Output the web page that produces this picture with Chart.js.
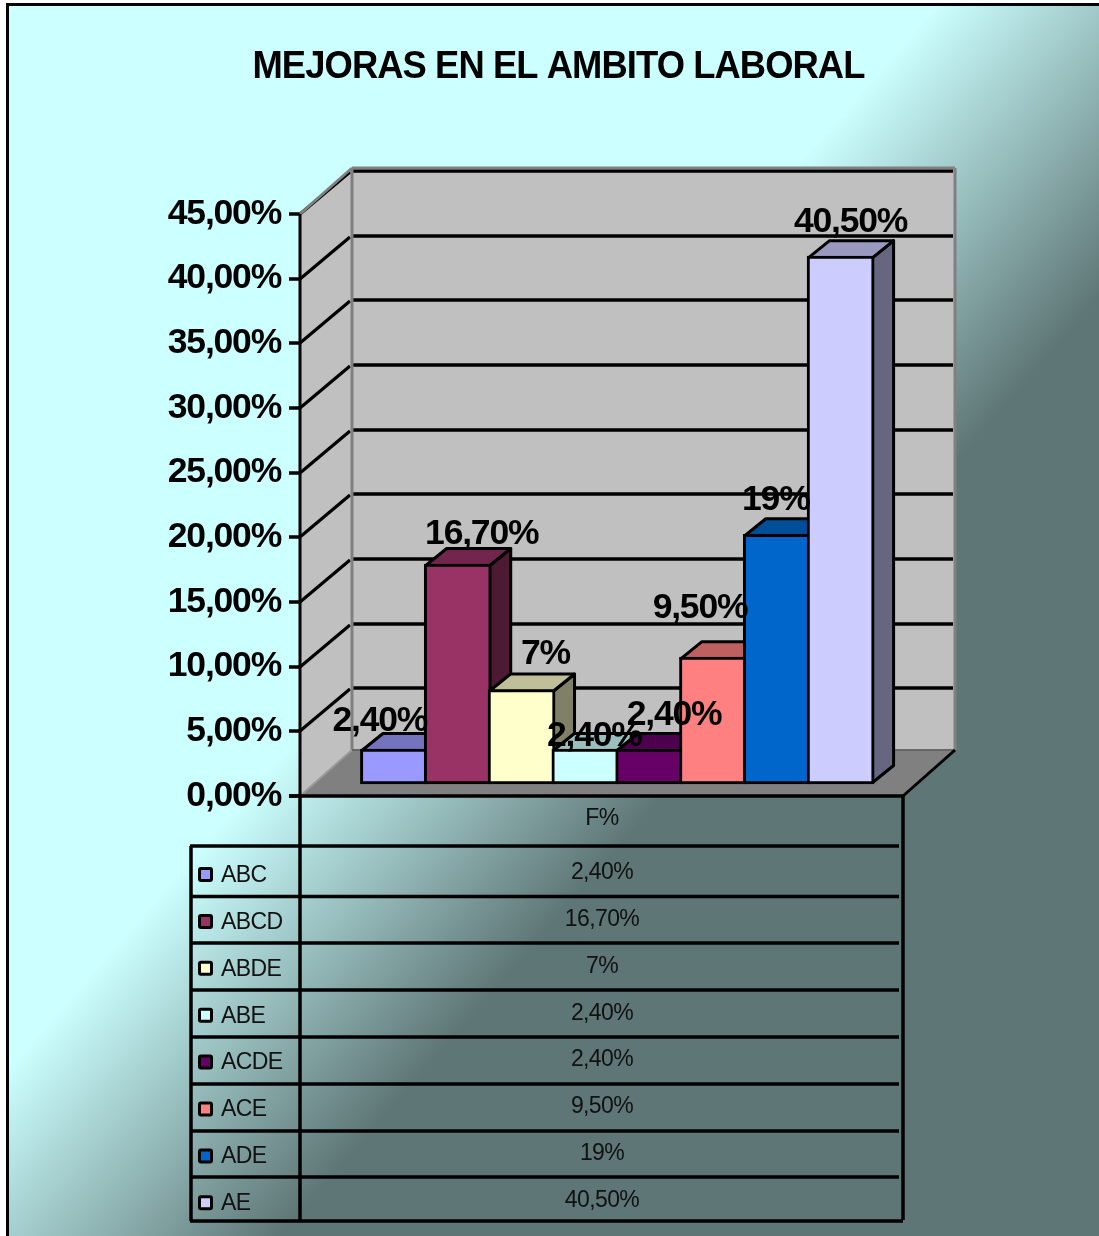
<!DOCTYPE html>
<html>
<head>
<meta charset="utf-8">
<title>Mejoras en el ambito laboral</title>
<script src="https://cdn.jsdelivr.net/npm/chart.js@4"></script>
<style>
    html, body { margin: 0; padding: 0; background: #fff; }
    canvas { display: block; }
</style>
</head>
<body>
<canvas id="chart" width="1099" height="1236"></canvas>
<script>
// Chart data
const titleText = 'MEJORAS EN EL AMBITO LABORAL';
const seriesName = 'F%';
const categories = ['ABC', 'ABCD', 'ABDE', 'ABE', 'ACDE', 'ACE', 'ADE', 'AE'];
const values = [2.4, 16.7, 7, 2.4, 2.4, 9.5, 19, 40.5];
const valueLabels = ['2,40%', '16,70%', '7%', '2,40%', '2,40%', '9,50%', '19%', '40,50%'];
const tickLabels = ['0,00%', '5,00%', '10,00%', '15,00%', '20,00%', '25,00%', '30,00%', '35,00%', '40,00%', '45,00%'];

// Colours: front of each bar, the top and side are shades of it
const barColors = [[153, 153, 255], [153, 51, 102], [255, 255, 204], [204, 255, 255], [102, 0, 102], [255, 128, 128], [0, 102, 204], [204, 204, 255]];

// Where the value labels sit relative to the top of their bar
const labelShiftX = [-14, 24, 24, 9, 25, -13, -1, 10];
const labelShiftY = [-28, -30, -35.5, -13, -34, -49, -34, -33.5];

// Table row lines, top to bottom
const tableRows = [846, 896.5, 943, 990, 1037, 1084, 1131, 1177, 1221];

const rgb = (c, k) => `rgb(${Math.round(c[0] * k)},${Math.round(c[1] * k)},${Math.round(c[2] * k)})`;
const boldFont = '"Liberation Sans", Arial, sans-serif';

function line(ctx, x1, y1, x2, y2, color, width) {
    ctx.strokeStyle = color;
    ctx.lineWidth = width;
    ctx.beginPath();
    ctx.moveTo(x1, y1);
    ctx.lineTo(x2, y2);
    ctx.stroke();
}

function poly(ctx, pts, fill, stroke, width) {
    ctx.beginPath();
    pts.forEach((p, i) => i ? ctx.lineTo(p[0], p[1]) : ctx.moveTo(p[0], p[1]));
    ctx.closePath();
    ctx.fillStyle = fill;
    ctx.fill();
    if (stroke) {
        ctx.strokeStyle = stroke;
        ctx.lineWidth = width;
        ctx.lineJoin = 'round';
        ctx.stroke();
    }
}

// Page background, frame and title
const backgroundPlugin = {
    id: 'background',
    beforeDraw(chart) {
        const ctx = chart.ctx;
        const grad = ctx.createLinearGradient(535, 465, 772, 672);
        grad.addColorStop(0, '#CCFFFF');
        grad.addColorStop(1, '#5F7676');
        ctx.save();
        ctx.fillStyle = '#fff';
        ctx.fillRect(0, 0, chart.width, chart.height);
        ctx.fillStyle = grad;
        ctx.fillRect(8, 5, chart.width, chart.height);
        line(ctx, 7.5, 1236, 7.5, 4.5, '#000', 3);
        line(ctx, 6, 4.5, 1099, 4.5, '#000', 3);

        // Title is squeezed sideways like the original
        ctx.fillStyle = '#000';
        ctx.font = 'bold 39px ' + boldFont;
        ctx.letterSpacing = '-1px';
        ctx.textAlign = 'center';
        ctx.textBaseline = 'middle';
        ctx.translate(558.5, 67);
        ctx.scale(0.933, 1);
        ctx.fillText(titleText, 0, 0);
        ctx.restore();

        // The y tick labels are drawn next and want the same tight spacing
        ctx.letterSpacing = '-1.2px';
    }
};

// Walls, floor and the depth of the bars, all hung off the y scale
const depthPlugin = {
    id: 'depth',
    beforeDatasetsDraw(chart) {
        const ctx = chart.ctx;
        ctx.letterSpacing = '0px';
        const y = chart.scales.y;
        const axisDrop = 16; // front axis sits lower than the bar zero
        const axisX = 300, axisRight = 903;
        const wallX = 352, wallRight = 955, wallTop = 168, wallBottom = 750;
        ctx.save();

        // Side wall and back wall
        poly(ctx, [[axisX, y.getPixelForValue(0) + axisDrop], [axisX, y.getPixelForValue(45) + axisDrop], [wallX, wallTop], [wallX, wallBottom]], '#C0C0C0');
        ctx.fillStyle = '#C0C0C0';
        ctx.fillRect(wallX, wallTop, wallRight - wallX, wallBottom - wallTop);

        // Floor
        poly(ctx, [[axisX, y.getPixelForValue(0) + axisDrop], [axisRight, y.getPixelForValue(0) + axisDrop], [wallRight, wallBottom], [wallX, wallBottom]], '#808080');

        // Gridlines on both walls and the axis ticks
        y.ticks.forEach(t => {
            const py = Math.round(y.getPixelForValue(t.value) + axisDrop);
            line(ctx, 289, py, axisX, py, '#000', 3.5);
            if (t.value > 0) {
                line(ctx, axisX, py, wallX - 2, py - 42, '#000', 3.2);
                line(ctx, wallX + 1, py - 43, wallRight - 2, py - 43, '#000', 3.5);
            }
        });

        // Wall outline
        const base = y.getPixelForValue(0) + axisDrop;
        const top = y.getPixelForValue(45) + axisDrop;
        line(ctx, axisX, top, wallX, wallTop, '#808080', 3);
        line(ctx, wallX, wallTop, wallRight, wallTop, '#808080', 3);
        line(ctx, wallX, wallTop, wallX, wallBottom, '#808080', 3);
        line(ctx, wallRight, wallTop, wallRight, wallBottom, '#808080', 3);
        line(ctx, axisX, base, wallX, wallBottom, '#999', 2);
        line(ctx, wallX, wallBottom, wallRight, wallBottom, '#666', 2);
        line(ctx, axisX, top, axisX, base, '#000', 3);
        line(ctx, axisX - 11, base, axisRight, base, '#000', 3.5);
        line(ctx, axisRight, base, wallRight, wallBottom, '#000', 3);

        // Top and side of each bar, left to right
        const dx = 21, dy = -17;
        chart.getDatasetMeta(0).data.forEach((bar, i) => {
            const left = bar.x - bar.width / 2 + 1.5;
            const right = bar.x + bar.width / 2 - 1.5;
            const barTop = bar.y + 1.5;
            const barBase = bar.base - 1.5;
            poly(ctx, [[right, barTop], [right + dx, barTop + dy], [right + dx, barBase + dy], [right, barBase]], rgb(barColors[i], 0.5), '#000', 3);
            poly(ctx, [[left, barTop], [left + dx, barTop + dy], [right + dx, barTop + dy], [right, barTop]], rgb(barColors[i], 0.75), '#000', 3);
        });
        ctx.restore();
    },
    afterDatasetsDraw(chart) {
        const ctx = chart.ctx;
        ctx.save();
        ctx.fillStyle = '#000';
        ctx.font = 'bold 35.5px ' + boldFont;
        ctx.letterSpacing = '-1.2px';
        ctx.textAlign = 'center';
        ctx.textBaseline = 'middle';
        chart.getDatasetMeta(0).data.forEach((bar, i) => {
            ctx.fillText(valueLabels[i], bar.x + labelShiftX[i], bar.y + labelShiftY[i]);
        });
        ctx.restore();
    }
};

// Data table under the chart
const tablePlugin = {
    id: 'dataTable',
    afterDraw(chart) {
        const ctx = chart.ctx;
        const colLeft = 191, colMid = 300, colRight = 903, rowEnd = 899;
        const last = tableRows[tableRows.length - 1];
        const rowStep = 46.9;
        ctx.save();
        line(ctx, colMid, 796, colMid, last, '#000', 3.5);
        line(ctx, colRight, 796, colRight, last - 1, '#000', 3.5);
        line(ctx, colLeft, tableRows[0], colLeft, last, '#000', 3.5);
        tableRows.forEach((ry, i) => {
            const end = i === tableRows.length - 1 ? colRight : rowEnd;
            line(ctx, colLeft - 1, ry, end, ry, '#000', 3.5);
        });

        ctx.font = '23px ' + boldFont;
        ctx.letterSpacing = '-0.6px';
        ctx.textBaseline = 'middle';
        ctx.fillStyle = '#111';
        ctx.textAlign = 'center';
        ctx.fillText(seriesName, 602, 819);
        categories.forEach((name, i) => {
            const rowY = 874.5 + rowStep * i;
            ctx.fillStyle = '#111';
            ctx.textAlign = 'center';
            ctx.fillText(valueLabels[i], 602, rowY - 2);
            ctx.textAlign = 'left';
            ctx.fillText(name, 221, rowY + 1);
            ctx.beginPath();
            ctx.roundRect(199.5, rowY - 6, 12, 12, 1.5);
            ctx.fillStyle = rgb(barColors[i], 1);
            ctx.fill();
            ctx.strokeStyle = '#000';
            ctx.lineWidth = 3;
            ctx.stroke();
        });
        ctx.restore();
    }
};

new Chart(document.getElementById('chart'), {
    type: 'bar',
    data: {
        labels: categories,
        datasets: [{
            label: seriesName,
            data: values,
            backgroundColor: barColors.map(c => rgb(c, 1)),
            borderColor: '#000',
            borderWidth: 3,
            borderSkipped: false,
            barThickness: 67,
            base: -0.31, // bars stand slightly below zero on the floor
            clip: false
        }]
    },
    options: {
        responsive: false,
        animation: false,
        devicePixelRatio: 1,
        layout: { padding: { left: 0, top: 198, right: 226.5, bottom: 456 } },
        plugins: {
            legend: { display: false },
            title: { display: false },
            tooltip: { enabled: false }
        },
        scales: {
            x: { display: false },
            y: {
                min: 0,
                max: 45,
                afterFit: scale => { scale.width = 362; },
                grid: { display: false, drawTicks: false },
                border: { display: false },
                ticks: {
                    stepSize: 5,
                    padding: 81,
                    labelOffset: 16,
                    color: '#000',
                    font: { family: boldFont, size: 35.5, weight: 'bold' },
                    callback: (value, index) => tickLabels[index]
                }
            }
        }
    },
    plugins: [backgroundPlugin, depthPlugin, tablePlugin]
});
</script>
</body>
</html>
